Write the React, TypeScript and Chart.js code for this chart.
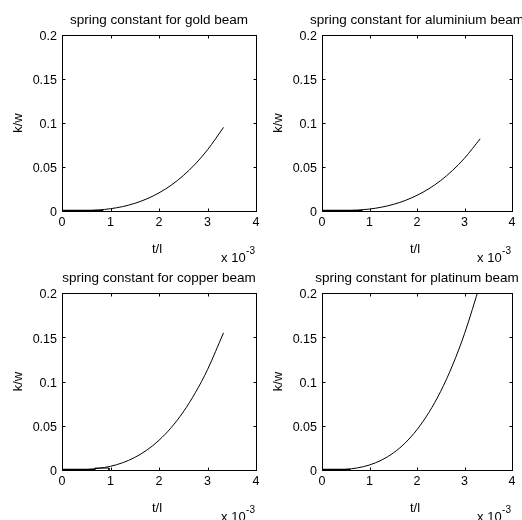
import React, { useEffect, useRef } from "react";
import { Chart, registerables } from "chart.js";

Chart.register(...registerables);

// ---------- data (t/l in units of 1e-3, k/w) ----------
const tOverL = [0, 0.25, 0.5, 0.75, 1.0, 1.25, 1.5, 1.75, 2.0, 2.25, 2.5, 2.75, 3.0, 3.33];
const goldK = [0, 0.00004, 0.0003, 0.0011, 0.0026, 0.005, 0.0087, 0.0138, 0.0206, 0.0293, 0.0402, 0.0535, 0.0695, 0.095];
const aluminiumK = [0, 0.00003, 0.0003, 0.0009, 0.0022, 0.0043, 0.0075, 0.0119, 0.0178, 0.0253, 0.0347, 0.0462, 0.06, 0.082];
const copperK = [0, 0.00007, 0.0005, 0.0018, 0.0042, 0.0082, 0.0142, 0.0225, 0.0336, 0.0478, 0.0656, 0.0874, 0.1134, 0.155];
const platinumK = [0, 0.0001, 0.0007, 0.0024, 0.0057, 0.0111, 0.0192, 0.0305, 0.0456, 0.065, 0.089, 0.1186, 0.154, 0.21];

const titles = [
  "spring constant for gold beam",
  "spring constant for aluminium beam",
  "spring constant for copper beam",
  "spring constant for platinum beam",
];
const seriesList = [goldK, aluminiumK, copperK, platinumK];
// end of the flat segment lying on zero (t/l, 1e-3)
const zeroSegmentEnd = [0.85, 0.85, 0.68, 0.6];
// small step near the start of the copper curve: [t start, t end, k height]
const copperStep = [0.68, 0.97, 0.0022];

const xTickValues = [0, 1, 2, 3, 4];
const xTickLabels = ["0", "1", "2", "3", "4"];
const yTickValues = [0, 0.05, 0.1, 0.15, 0.2];
const yTickLabels = ["0", "0.05", "0.1", "0.15", "0.2"];
const xLabel = "t/l";
const yLabel = "k/w";
const expBase = "x 10";
const expPower = "-3";

// ---------- layout ----------
const W = 522;
const H = 520;
const Y_AXIS_W = 40;
const X_AXIS_H = 30;
const areas = [
  { left: 62, right: 256, top: 35, bottom: 211 },
  { left: 322, right: 512, top: 35, bottom: 211 },
  { left: 62, right: 256, top: 293, bottom: 470 },
  { left: 322, right: 512, top: 293, bottom: 470 },
];
const FONT = '"Liberation Sans", Arial, Helvetica, sans-serif';

const framePlugin = {
  id: "matlabFrame",
  afterDatasetsDraw(chart: any, _args: any, opts: any) {
    const { ctx, chartArea: a, scales } = chart;
    ctx.save();
    ctx.strokeStyle = "#000";
    ctx.lineWidth = 1;
    const L = Math.round(a.left) + 0.5;
    const R = Math.round(a.right) + 0.5;
    const T = Math.round(a.top) + 0.5;
    const B = Math.round(a.bottom) + 0.5;
    ctx.strokeRect(L, T, R - L, B - T);
    const TL = 3;
    ctx.beginPath();
    for (const v of xTickValues) {
      const px = Math.round(scales.x.getPixelForValue(v)) + 0.5;
      ctx.moveTo(px, B);
      ctx.lineTo(px, B - TL);
      ctx.moveTo(px, T);
      ctx.lineTo(px, T + TL);
    }
    for (const v of yTickValues) {
      const py = Math.round(scales.y.getPixelForValue(v)) + 0.5;
      ctx.moveTo(L, py);
      ctx.lineTo(L + TL, py);
      ctx.moveTo(R, py);
      ctx.lineTo(R - TL, py);
    }
    ctx.stroke();

    ctx.fillStyle = "#000";
    const cx = (a.left + a.right) / 2;
    const cy = (a.top + a.bottom) / 2;
    // title
    ctx.font = `13.5px ${FONT}`;
    ctx.textAlign = "center";
    ctx.textBaseline = "alphabetic";
    ctx.fillText(opts.title, cx, a.top - 11);
    // x label
    ctx.font = `13px ${FONT}`;
    ctx.fillText(xLabel, cx - 2, a.bottom + 42);
    // y label
    ctx.save();
    ctx.translate(a.left - 44, cy);
    ctx.rotate(-Math.PI / 2);
    ctx.textBaseline = "middle";
    ctx.fillText(yLabel, 0, 0);
    ctx.restore();
    // exponent
    ctx.font = `10px ${FONT}`;
    const wp = ctx.measureText(expPower).width;
    ctx.textAlign = "left";
    ctx.fillText(expPower, a.right - 1 - wp, a.bottom + 43);
    ctx.font = `13px ${FONT}`;
    ctx.textAlign = "right";
    ctx.fillText(expBase, a.right - 1 - wp - 0.5, a.bottom + 51);
    ctx.restore();
  },
};

function Panel({ index }: { index: number }) {
  const ref = useRef<HTMLCanvasElement | null>(null);
  useEffect(() => {
    const canvas = ref.current;
    if (!canvas) return;
    const area = areas[index];
    const values = seriesList[index];
    const datasets: any[] = [
      {
        data: tOverL.map((t, i) => ({ x: t, y: values[i] })),
        borderColor: "#000",
        borderWidth: 1,
        pointRadius: 0,
        showLine: true,
        cubicInterpolationMode: "monotone",
      },
      {
        data: [
          { x: 0, y: 0 },
          { x: zeroSegmentEnd[index], y: 0 },
        ],
        borderColor: "#000",
        borderWidth: 2.5,
        pointRadius: 0,
        showLine: true,
      },
    ];
    if (index === 2) {
      datasets.push({
        data: [
          { x: copperStep[0], y: 0 },
          { x: copperStep[0], y: copperStep[2] },
          { x: copperStep[1], y: copperStep[2] },
          { x: copperStep[1], y: 0 },
        ],
        borderColor: "#000",
        borderWidth: 1,
        pointRadius: 0,
        showLine: true,
      });
    }
    const tickFont = { family: FONT, size: 12.5 };
    const chart = new Chart(canvas, {
      type: "scatter",
      data: { datasets },
      plugins: [framePlugin],
      options: {
        animation: false,
        responsive: false,
        maintainAspectRatio: false,
        events: [],
        layout: {
          padding: {
            left: area.left - Y_AXIS_W,
            right: W - area.right,
            top: area.top,
            bottom: H - area.bottom - X_AXIS_H,
          },
        },
        plugins: {
          legend: { display: false },
          tooltip: { enabled: false },
          title: { display: false },
          matlabFrame: { title: titles[index] },
        } as any,
        scales: {
          x: {
            type: "linear",
            min: 0,
            max: 4,
            afterFit: (s: any) => {
              s.height = X_AXIS_H;
            },
            afterBuildTicks: (s: any) => {
              s.ticks = xTickValues.map((v) => ({ value: v }));
            },
            ticks: {
              padding: 4,
              color: "#000",
              font: tickFont,
              maxRotation: 0,
              autoSkip: false,
              callback: (_v: any, i: number) => xTickLabels[i],
            },
            grid: { display: false, drawTicks: false },
            border: { display: false },
          },
          y: {
            type: "linear",
            min: 0,
            max: 0.2,
            afterFit: (s: any) => {
              s.width = Y_AXIS_W;
            },
            afterBuildTicks: (s: any) => {
              s.ticks = yTickValues.map((v) => ({ value: v }));
            },
            ticks: {
              padding: 5,
              labelOffset: 2,
              color: "#000",
              font: tickFont,
              autoSkip: false,
              callback: (_v: any, i: number) => yTickLabels[i],
            },
            grid: { display: false, drawTicks: false },
            border: { display: false },
          },
        },
      } as any,
    });
    return () => chart.destroy();
  }, [index]);
  return (
    <canvas
      ref={ref}
      width={W}
      height={H}
      style={{ position: "absolute", left: 0, top: 0, width: W, height: H }}
    />
  );
}

export default function App() {
  return (
    <div
      style={{
        position: "fixed",
        left: 0,
        top: 0,
        width: W,
        height: H,
        background: "#fff",
        overflow: "hidden",
      }}
    >
      {[0, 1, 2, 3].map((i) => (
        <Panel key={i} index={i} />
      ))}
    </div>
  );
}
